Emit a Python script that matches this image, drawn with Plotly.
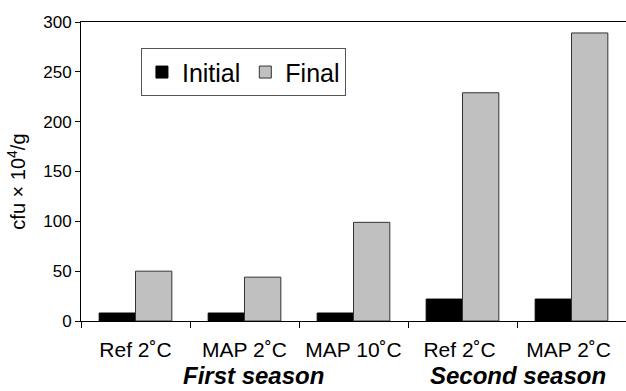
import plotly.graph_objects as go

categories = ["Ref 2˚C", "MAP 2˚C", "MAP 10˚C", "Ref 2˚C ", "MAP 2˚C "]
initial = [8, 8, 8, 22, 22]
final = [50, 44, 99, 229, 289]
seasons = ["First season", "Second season"]
season_pos = [1.08, 3.51]

FONT = "Liberation Sans, Arial, Helvetica, sans-serif"

fig = go.Figure()
fig.add_trace(go.Bar(x=categories, y=initial, name="Initial",
                     marker=dict(color="#000000", line=dict(color="#000000", width=1))))
fig.add_trace(go.Bar(x=categories, y=final, name="Final",
                     marker=dict(color="#c0c0c0", line=dict(color="#333333", width=1))))

for s, p in zip(seasons, season_pos):
    fig.add_annotation(x=p, y=-70 / 299, xref="x", yref="paper", text=f"<b><i>{s}</i></b>",
                       showarrow=False, font=dict(family=FONT, size=24, color="#000"),
                       xanchor="center", yanchor="bottom")

fig.add_annotation(x=-0.118, y=0.465, xref="paper", yref="paper",
                   text="cfu × 10<sup>4</sup>/g", textangle=-90, showarrow=False,
                   font=dict(family=FONT, size=20, color="#000"),
                   xanchor="center", yanchor="middle")

fig.update_layout(
    width=626, height=391,
    margin=dict(l=81, r=0, t=22, b=70),
    paper_bgcolor="white", plot_bgcolor="white",
    barmode="group", bargap=1/3, bargroupgap=0,
    font=dict(family=FONT, color="#000"),
    showlegend=True,
    legend=dict(orientation="h", x=0.11, y=0.912, xanchor="left", yanchor="top",
                bordercolor="#555555", borderwidth=1, bgcolor="white",
                font=dict(size=25, family=FONT), itemwidth=30),
    xaxis=dict(showline=True, linecolor="#000", linewidth=1, mirror=True,
               ticks="outside", tickson="boundaries", ticklen=6, tickcolor="#000",
               ticklabelstandoff=10,
               tickfont=dict(size=21, family=FONT), showgrid=False),
    yaxis=dict(range=[0, 300], dtick=50, showline=True, linecolor="#000", linewidth=1,
               ticks="outside", ticklen=5, tickcolor="#000", showgrid=False, zeroline=False,
               tickfont=dict(size=17, family=FONT)),
)

fig.write_html("out.html")
